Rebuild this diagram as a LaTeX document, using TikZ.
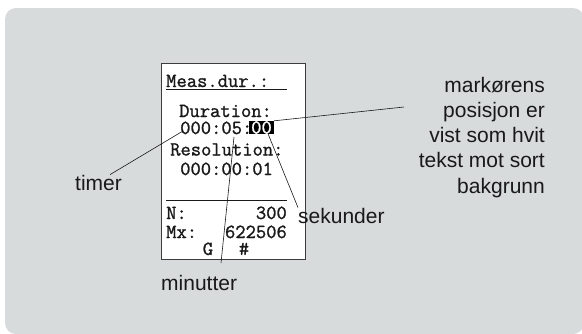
\documentclass[tikz,border=0pt]{standalone}
\usepackage{fontspec}
\newfontfamily\labelfont{Liberation Sans}
\newfontfamily\lcdfont[FakeBold=1.2]{Latin Modern Mono}
\usetikzlibrary{calc}
\definecolor{panel}{RGB}{215,219,220}
\definecolor{ink}{RGB}{25,25,25}
\begin{document}
\begin{tikzpicture}[x=1pt,y=-1pt,
  lcd/.style={font=\lcdfont\fontsize{20}{24}\selectfont, inner sep=0pt, anchor=base west, text=ink},
  lcdr/.style={lcd, anchor=base east},
  lab/.style={font=\labelfont\fontsize{21}{25.2}\selectfont, inner sep=0pt, text=ink},
  lead/.style={line width=0.6pt, draw=ink},
  rule/.style={line width=1pt, draw=ink}]
\useasboundingbox (0,0) rectangle (582,333);
\fill[panel, rounded corners=11pt] (5,8) rectangle (584,334);
% LCD display
\node[draw=ink!85, line width=1pt, fill=white, minimum width=144pt, minimum height=196pt, anchor=north west, inner sep=0pt] (lcd) at (161,63) {};
\node[lcd] (hdr) at (166,87) {Meas.dur.:};
\draw[rule] (166,89) -- (287,89);
\node[lcd] (dur) at (179,117) {Duration:};
\node[lcd] (durv) at (180,134) {000:05:};
\node[font=\lcdfont\fontsize{20}{24}\selectfont, fill=black, text=white, inner sep=0pt, minimum width=25pt, minimum height=13pt] (sec) at (261.5,127.5) {00};
\node[lcd] (res) at (170,155.5) {Resolution:};
\node[lcd] (resv) at (180,175) {000:00:01};
\draw[rule] (166,200.5) -- (287,200.5);
\node[lcd] (nl) at (166,219) {N:};
\node[lcdr] (nv) at (287,219) {300};
\node[lcd] (mxl) at (166,238) {Mx:};
\node[lcdr] (mxv) at (287,238) {622506};
\node[lcd, anchor=base] (g) at (208,255) {G};
\node[lcd, anchor=base] (hash) at (244,255) {\#};
% labels
\node[lab, anchor=base west] (timer) at (75,190) {timer};
\node[lab, anchor=base west] (min) at (161,290) {minutter};
\node[lab, anchor=base west] (sek) at (298,223) {sekunder};
\node[lab, align=right, anchor=base east] (mark) at (545,193) {markørens\\posisjon er\\vist som hvit\\tekst mot sort\\bakgrunn};
% leader lines
\coordinate (markend) at (404,107);
\coordinate (minend) at (221,263);
\draw[lead] (sec.north east) -- (markend);
\draw[lead] ([xshift=-6pt]sec.south east) -- (sek.north west);
\draw[lead] ($(durv.base west)+(3,-3)$) -- ([xshift=-12pt]timer.north east);
\draw[lead] ($(durv.base west)+(54,3)$) -- (minend);
\end{tikzpicture}
\end{document}
